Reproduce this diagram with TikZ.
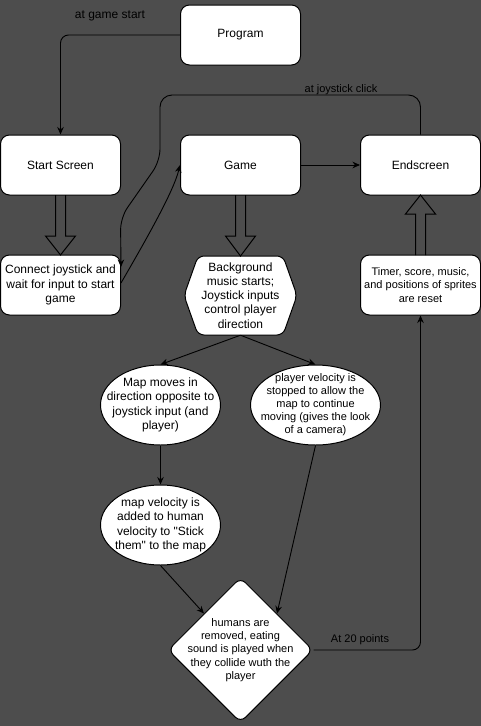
\documentclass[tikz,border=0pt]{standalone}
\usepackage{fontspec}
\setmainfont{Liberation Sans}[Ligatures=TeXOff]
\usetikzlibrary{shapes.geometric,arrows.meta}
\definecolor{bg}{HTML}{4D4D4D}
\begin{document}
\begin{tikzpicture}[x=1pt,y=-1pt,
  fA/.style={font=\fontsize{12}{14.5}\selectfont},
  fB/.style={font=\fontsize{11}{13.2}\selectfont},
  box/.style={draw=black,fill=white,rounded corners=9pt,minimum width=120pt,minimum height=60pt,inner sep=2pt,align=center,line width=1pt,fA},
  ell/.style={draw=black,fill=white,ellipse,inner sep=0pt,line width=1pt},
  txt/.style={inner sep=0pt,align=center,text=black},
  lbl/.style={inner sep=0pt,text=black},
  conn/.style={draw=black,line width=0.9pt,-{Stealth[length=7.5pt,width=6.5pt]}},
  blk/.style={draw=black,line width=1pt,line join=miter},
  shp/.style={draw=black,fill=white,line width=1pt}
]
\fill[bg] (0,0) rectangle (481,726);
\useasboundingbox (0,0) rectangle (481,726);

% rectangles
\node[box] (prog) at (240.5,35) {Program};
\node[box] (ss) at (60.5,165) {Start Screen};
\node[box] (game) at (240.5,165) {Game};
\node[box] (es) at (420.5,165) {Endscreen};
\node[box] (cj) at (60.5,285) {Connect joystick and\\wait for input to start\\game};
\node[box,fB] (tm) at (420.5,285) {Timer, score, music,\\and positions of sprites\\are reset};

% hexagon
\draw[shp,rounded corners=6pt] (184,295.5) -- (198,256) -- (283,256) -- (297,295.5) -- (283,335) -- (198,335) -- cycle;
\node[txt,fA,minimum width=113pt,minimum height=79pt,font=\fontsize{12}{14.2}\selectfont] (hex) at (240.5,295.5) {Background\\music starts;\\Joystick inputs\\control player\\direction};

% ellipses
\node[ell,minimum width=120pt,minimum height=80pt] (e1) at (160.5,405) {};
\node[txt,fA] (e1t) at (e1) {Map moves in\\direction opposite to\\joystick input (and\\player)};
\node[ell,minimum width=130pt,minimum height=80pt] (e2) at (315.5,405) {};
\node[txt,fB,font=\fontsize{11}{13}\selectfont] (e2t) at (e2) {player velocity is\\stopped to allow the\\map to continue\\moving (gives the look\\of a camera)};
\node[ell,minimum width=120pt,minimum height=80pt] (e3) at (160.5,525) {};
\node[txt,fA,font=\fontsize{12}{14.3}\selectfont] (e3t) at (e3) {map velocity is\\added to human\\velocity to "Stick\\them" to the map};

% diamond
\node[diamond,draw=black,fill=white,line width=1pt,rounded corners=7pt,minimum width=145pt,minimum height=145pt,inner sep=0pt] (dia) at (240.5,650) {};
\node[txt,fB,font=\fontsize{11}{13.3}\selectfont] (diat) at (dia) {humans are\\removed, eating\\sound is played when\\they collide wuth the\\player};

% block arrows
\draw[blk] (55.5,195) -- (55.5,236) -- (45.5,236) -- (60.5,255) -- (75.5,236) -- (65.5,236) -- (65.5,195);
\draw[blk] (235.5,195) -- (235.5,236) -- (225.5,236) -- (240.5,256) -- (255.5,236) -- (245.5,236) -- (245.5,195);
\draw[blk] (415.5,255) -- (415.5,214) -- (405.5,214) -- (420.5,195) -- (435.5,214) -- (425.5,214) -- (425.5,255);

% connectors
\draw[conn,rounded corners=8pt] (prog.west) -| (ss.north);
\node[lbl,fA] (l1) at (110,16) {at game start};
\draw[conn] (game.east) -- (es.west);
\draw[conn,rounded corners=12pt] (es.north) |- (160,95) -- (160,161) -- (120.5,217.6) -- ([yshift=18pt]cj.east);
\node[lbl,fB] (l2) at (341,90) {at joystick click};
\draw[conn] ([yshift=2pt]cj.east) .. controls (150,233) and (174,190) .. (game.west);
\draw[conn] (hex.south) -- (e1.north);
\draw[conn] (hex.south) -- (e2.north);
\draw[conn] (e1.south) -- (e3.north);
\draw[conn] (e3.south) -- (dia.north west);
\draw[conn] (e2.south) -- (dia.north east);
\draw[conn,rounded corners=8pt] (dia.east) -| (tm.south);
\node[lbl,fB] (l3) at (360,640) {At 20 points};
\end{tikzpicture}
\end{document}
